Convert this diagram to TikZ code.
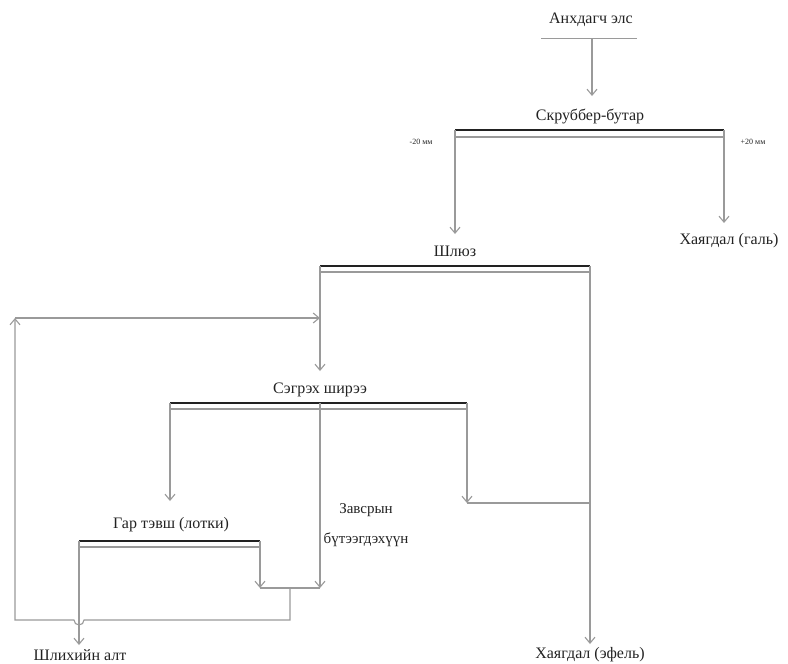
\documentclass[tikz,border=0pt]{standalone}
\usepackage{fontspec}
\setmainfont{Liberation Serif}
\usetikzlibrary{arrows.meta}
\definecolor{linegray}{HTML}{9A9A9A}
\definecolor{txt}{HTML}{222222}
\definecolor{barcol}{HTML}{222222}
\begin{document}
\begin{tikzpicture}[x=1pt,y=-1pt,
  flow/.style={draw=linegray, line width=1.1pt, -{Straight Barb[length=6pt,width=10pt]}},
  ln/.style={draw=linegray, line width=1.1pt},
  thickbar/.style={draw=barcol, line width=2.4pt},
  thinbar/.style={draw=linegray, line width=1.1pt},
  lbl/.style={font=\fontsize{16}{18}\selectfont, text=txt, inner sep=1pt},
  small/.style={font=\fontsize{8}{9}\selectfont, text=txt, inner sep=1pt}]
\useasboundingbox (0,0) rectangle (788,664);

% --- feed and scrubber
\node[lbl] (feed) at (591,20) {Анхдагч элс};
\coordinate (ulL) at (541,38); \coordinate (ulR) at (637,38);
\draw[ln, line width=0.8pt] (ulL) -- (ulR);
\node[lbl] (scr) at (590,116) {Скруббер-бутар};
\coordinate (f0) at (592,39); \coordinate (f1) at (592,96);
\draw[flow] (f0) -- (f1);
\coordinate (scrL) at (455,130); \coordinate (scrR) at (724,130);
\draw[thickbar] (scrL) -- (scrR);
\draw[thinbar] (455,137) -- (724,137);
\node[small] (m20) at (421,142) {-20 мм};
\node[small] (p20) at (753,142) {+20 мм};

% --- sluice and tailings (pebbles)
\node[lbl] (shluz) at (455,251) {Шлюз};
\node[lbl] (gal) at (729,241) {Хаягдал (галь)};
\coordinate (a1) at (455,234); \coordinate (a2) at (724,223);
\draw[flow] (scrL) -- (a1);
\draw[flow] (scrR) -- (a2);
\coordinate (shL) at (320,266); \coordinate (shR) at (590,266);
\draw[thickbar] (shL) -- (shR);
\draw[thinbar] (320,272) -- (590,272);
\node[lbl] (efel) at (590,655) {Хаягдал (эфель)};
\coordinate (a3) at (590,644);
\draw[flow] (shR) -- (a3);

% --- shaking table
\node[lbl] (seg) at (320,390) {Сэгрэх ширээ};
\coordinate (a4) at (320,371);
\draw[flow] (shL) -- (a4);
\coordinate (sgL) at (170,403); \coordinate (sgM) at (320,403); \coordinate (sgR) at (467,403);
\draw[thickbar] (sgL) -- (sgR);
\draw[thinbar] (170,409) -- (467,409);
\coordinate (j1) at (467,503); \coordinate (j1r) at (590,503);
\draw[flow] (sgR) -- (j1);
\draw[ln] (j1) -- (j1r);

% --- hand pan
\node[lbl] (gar) at (171,525) {Гар тэвш (лотки)};
\coordinate (a5) at (170,501);
\draw[flow] (sgL) -- (a5);
\coordinate (gL) at (79,541); \coordinate (gR) at (260,541);
\draw[thickbar] (gL) -- (gR);
\draw[thinbar] (79,547) -- (260,547);
\node[lbl, align=center, font=\fontsize{15}{30}\selectfont] (mid) at (366,525) {Завсрын\\бүтээгдэхүүн};
\coordinate (j2l) at (260,588); \coordinate (j2r) at (320,588); \coordinate (j2m) at (290,588);
\draw[flow] (gR) -- (j2l);
\draw[flow] (sgM) -- (j2r);
\draw[ln] (j2l) -- (j2r);

% --- recycle loop with line hop
\coordinate (loopc) at (15,318); \coordinate (shx) at (320,318);
\draw[flow] (j2m) -- (290,620) -- (84,620) arc[start angle=0, end angle=180, radius=5] -- (15,620) -- (loopc);
\draw[flow] (loopc) -- (shx);

% --- concentrate gold
\node[lbl] (gold) at (80,655) {Шлихийн алт};
\coordinate (a6) at (79,645);
\draw[flow] (gL) -- (a6);
\end{tikzpicture}
\end{document}
